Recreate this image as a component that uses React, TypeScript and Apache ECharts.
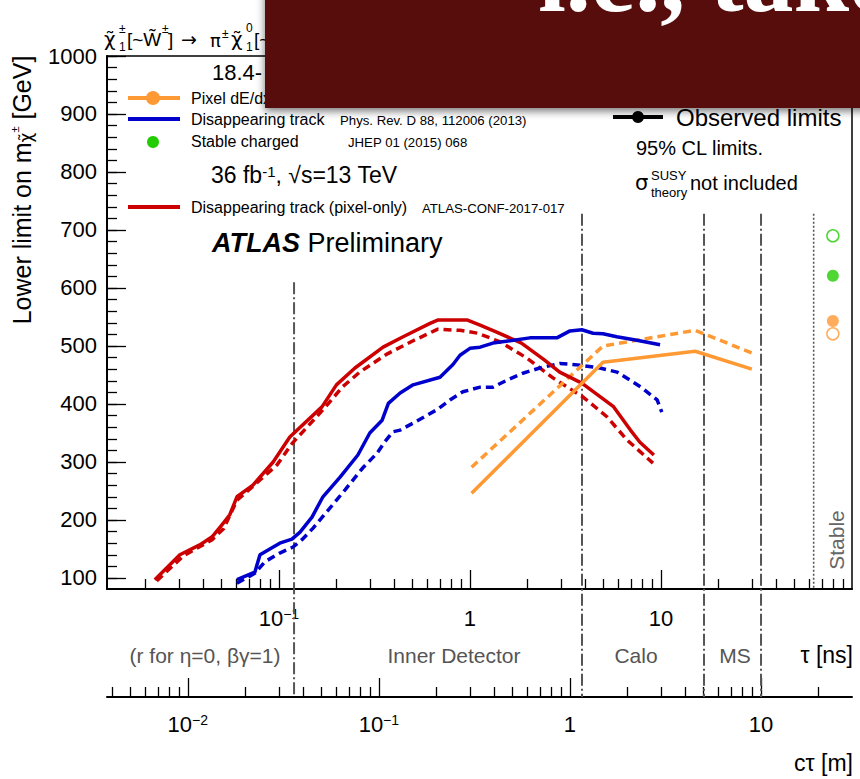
import React, { useEffect, useRef } from "react";
import * as echarts from "echarts";

// ---------- data (tau in ns, mass in GeV) ----------
const tauRedObs = [0.0224, 0.0303, 0.0385, 0.0447, 0.0513, 0.0553, 0.0603, 0.0731, 0.0933, 0.114, 0.168, 0.2, 0.25, 0.351, 0.447, 0.618, 0.682, 0.964, 1.13, 1.38, 1.86, 2.45, 2.95, 3.85, 5.62, 6.92, 7.76, 9.18];
const massRedObs = [97, 140, 157, 171, 195, 209, 240, 260, 300, 343, 395, 433, 462, 498, 516, 539, 545, 545, 536, 524, 505, 476, 455, 436, 396, 355, 334, 312];

const tauRedExp = [0.0229, 0.0316, 0.0447, 0.0513, 0.0603, 0.0708, 0.0977, 0.118, 0.17, 0.216, 0.265, 0.367, 0.504, 0.679, 0.887, 1.1, 1.44, 1.99, 2.72, 3.91, 5.21, 6.64, 9.08];
const massRedExp = [95, 138, 166, 185, 234, 254, 295, 333, 390, 430, 455, 486, 509, 529, 527, 522, 507, 479, 445, 412, 378, 338, 298];

const tauBlueObs = [0.0603, 0.0748, 0.0796, 0.101, 0.117, 0.129, 0.149, 0.17, 0.209, 0.259, 0.299, 0.347, 0.374, 0.431, 0.504, 0.697, 0.815, 0.887, 1.0, 1.13, 1.32, 1.62, 2.06, 2.85, 3.34, 3.85, 4.41, 4.97, 5.87, 7.48, 9.89];
const massBlueObs = [97, 110, 140, 160, 167, 179, 205, 240, 274, 312, 350, 372, 401, 419, 433, 446, 468, 484, 496, 498, 505, 509, 514, 514, 526, 528, 522, 521, 516, 510, 502];

const tauBlueExp = [0.0603, 0.0748, 0.0845, 0.101, 0.118, 0.132, 0.151, 0.178, 0.222, 0.275, 0.326, 0.359, 0.395, 0.431, 0.504, 0.671, 0.786, 0.918, 1.13, 1.32, 1.56, 1.89, 2.32, 2.96, 3.77, 4.79, 5.89, 6.89, 7.94, 9.55, 10.1];
const massBlueExp = [91, 108, 128, 143, 153, 166, 186, 214, 252, 290, 315, 335, 352, 355, 367, 390, 407, 421, 429, 429, 441, 453, 462, 470, 467, 462, 455, 441, 428, 407, 386];

const tauOrange = [1.02, 4.97, 15.1, 29.9];
const massOrangeObs = [246, 472, 491, 460];
const massOrangeExp = [291, 500, 527, 488];

const tauStable = 79.4;
const stableGreenObs = 621;
const stableGreenExp = 690;
const stableOrangeObs = 543;
const stableOrangeExp = 521;

// detector boundaries (tau in ns), top of line (GeV), 1 = dash-dot down to c*tau axis
const refTau = [0.12, 3.86, 16.8, 33.4, 63];
const refTop = [610, 728, 728, 728, 728];
const refKind = [1, 1, 1, 1, 0];

// axes
const tauLogMin = -1.9;
const tauLogMax = 2;
const lightSpeed = 0.299792458; // m per ns
const tauMajor = [0.1, 1, 10];
const ctauMajor = [0.01, 0.1, 1, 10];
const decades = [0.001, 0.01, 0.1, 1, 10];
const multipliers = [2, 3, 4, 5, 6, 7, 8, 9];
const yMajor = [100, 200, 300, 400, 500, 600, 700, 800, 900, 1000];
const yMinMass = 81;
const yMaxMass = 1000;
const yMinorStep = 20;

const FONT = "Liberation Sans, Arial, Helvetica, sans-serif";
const GREEKFONT = "DejaVu Sans, Liberation Sans, sans-serif";
const RED = "#cc0000";
const BLUE = "#0000cc";
const ORANGE = "#ff9933";
const GREEN = "#22cc00";

const lg = (v: number) => Math.log10(v);
const pairs = (t: number[], m: number[]) => t.map((v, i) => [lg(v), m[i]]);

const minorLogs = (lo: number, hi: number) => {
  const out: number[] = [];
  decades.forEach((d) =>
    multipliers.forEach((k) => {
      const v = lg(d * k);
      if (v >= lo - 1e-9 && v <= hi + 1e-9) out.push(v);
    })
  );
  return out;
};

const yMinor: number[] = [];
for (let v = 100; v <= 1000; v += yMinorStep) yMinor.push(v);

const powFmt = (lv: number) => {
  const r = Math.round(lv);
  if (r === 0) return "{b|1}";
  if (r === 1) return "{b|10}";
  return "{b|10}{s|\u2212" + -r + "}";
};

const tickRich = {
  b: { fontSize: 22, fontFamily: FONT, color: "#000" },
  s: { fontSize: 14, fontFamily: FONT, color: "#000", verticalAlign: "top" as const },
};

function txt(x: number, y: number, text: string, size: number, extra: any = {}) {
  return {
    type: "text",
    x,
    y,
    z: 10,
    style: {
      text,
      fontSize: size,
      fontFamily: FONT,
      fill: "#000",
      align: "left",
      verticalAlign: "middle",
      ...extra,
    },
  };
}

export default function App() {
  const ref = useRef<HTMLDivElement>(null);
  useEffect(() => {
    if (!ref.current) return;
    const chart = echarts.init(ref.current, undefined, { renderer: "svg" });
    const ctMin = tauLogMin + lg(lightSpeed);
    const ctMax = tauLogMax + lg(lightSpeed);
    const baseX = {
      type: "value",
      position: "bottom",
      splitLine: { show: false },
    };
    const option: any = {
      animation: false,
      grid: {
        left: 107,
        top: 56,
        width: 745,
        height: 533,
        show: true,
        borderColor: "#000",
        borderWidth: 1.5,
        backgroundColor: "transparent",
      },
      xAxis: [
        {
          ...baseX,
          min: tauLogMin,
          max: tauLogMax,
          axisLine: { show: true, onZero: false, lineStyle: { color: "#000", width: 2 } },
          axisTick: { show: true, inside: true, length: 19, customValues: tauMajor.map(lg), lineStyle: { color: "#000", width: 1.3 } },
          axisLabel: { show: true, customValues: tauMajor.map(lg), formatter: powFmt, rich: tickRich, margin: 18 },
        },
        {
          ...baseX,
          min: tauLogMin,
          max: tauLogMax,
          axisLine: { show: false, onZero: false },
          axisTick: { show: true, inside: true, length: 10, customValues: minorLogs(tauLogMin, tauLogMax), lineStyle: { color: "#000", width: 1.3 } },
          axisLabel: { show: false },
        },
        {
          ...baseX,
          min: ctMin,
          max: ctMax,
          offset: 108,
          axisLine: { show: true, onZero: false, lineStyle: { color: "#000", width: 2 } },
          axisTick: { show: true, inside: true, length: 19, customValues: ctauMajor.map(lg), lineStyle: { color: "#000", width: 1.3 } },
          axisLabel: { show: true, customValues: ctauMajor.map(lg), formatter: powFmt, rich: tickRich, margin: 16 },
        },
        {
          ...baseX,
          min: ctMin,
          max: ctMax,
          offset: 108,
          axisLine: { show: false, onZero: false },
          axisTick: { show: true, inside: true, length: 10, customValues: minorLogs(ctMin, ctMax), lineStyle: { color: "#000", width: 1.3 } },
          axisLabel: { show: false },
        },
      ],
      yAxis: [
        {
          type: "value",
          position: "left",
          min: yMinMass,
          max: yMaxMass,
          splitLine: { show: false },
          axisLine: { show: true, onZero: false, lineStyle: { color: "#000", width: 2 } },
          axisTick: { show: true, inside: true, length: 19, customValues: yMajor, lineStyle: { color: "#000", width: 1.3 } },
          axisLabel: { show: true, customValues: yMajor, formatter: (v: number) => String(v), fontSize: 22, fontFamily: FONT, color: "#000", margin: 10 },
        },
        {
          type: "value",
          position: "left",
          min: yMinMass,
          max: yMaxMass,
          splitLine: { show: false },
          axisLine: { show: false, onZero: false },
          axisTick: { show: true, inside: true, length: 10, customValues: yMinor, lineStyle: { color: "#000", width: 1.3 } },
          axisLabel: { show: false },
        },
      ],
      series: [
        {
          type: "custom",
          name: "boundaries",
          clip: false,
          z: 1,
          encode: { x: 0, y: 1 },
          data: refTau.map((t, i) => [lg(t), refTop[i], refKind[i]]),
          renderItem: (params: any, api: any) => {
            const p = api.coord([api.value(0), api.value(1)]);
            const cs = params.coordSys;
            const full = api.value(2) === 1;
            const bottom = cs.y + cs.height + (full ? 108 : 0);
            return {
              type: "line",
              shape: { x1: p[0], y1: p[1], x2: p[0], y2: bottom },
              style: full
                ? { stroke: "#555", lineWidth: 2, lineDash: [12, 3, 2, 3] }
                : { stroke: "#555", lineWidth: 1.6, lineDash: [2, 2] },
            };
          },
        },
        { type: "line", name: "Pixel-only exp", data: pairs(tauRedExp, massRedExp), symbol: "none", lineStyle: { color: RED, width: 3.5, type: [8, 5] }, z: 3 },
        { type: "line", name: "Pixel-only obs", data: pairs(tauRedObs, massRedObs), symbol: "none", lineStyle: { color: RED, width: 3.5 }, z: 4 },
        { type: "line", name: "Disappearing exp", data: pairs(tauBlueExp, massBlueExp), symbol: "none", lineStyle: { color: BLUE, width: 3.5, type: [8, 5] }, z: 3 },
        { type: "line", name: "Disappearing obs", data: pairs(tauBlueObs, massBlueObs), symbol: "none", lineStyle: { color: BLUE, width: 3.5 }, z: 4 },
        { type: "line", name: "dEdx exp", data: pairs(tauOrange, massOrangeExp), symbol: "none", lineStyle: { color: ORANGE, width: 3.5, type: [8, 5] }, z: 3 },
        { type: "line", name: "dEdx obs", data: pairs(tauOrange, massOrangeObs), symbol: "none", lineStyle: { color: ORANGE, width: 3.5 }, z: 4 },
        { type: "scatter", data: [[lg(tauStable), stableGreenObs]], symbol: "circle", symbolSize: 12, itemStyle: { color: GREEN } },
        { type: "scatter", data: [[lg(tauStable), stableGreenExp]], symbol: "circle", symbolSize: 12, itemStyle: { color: "#fff", borderColor: GREEN, borderWidth: 1.5 } },
        { type: "scatter", data: [[lg(tauStable), stableOrangeObs]], symbol: "circle", symbolSize: 12, itemStyle: { color: ORANGE } },
        { type: "scatter", data: [[lg(tauStable), stableOrangeExp]], symbol: "circle", symbolSize: 12, itemStyle: { color: "#fff", borderColor: ORANGE, borderWidth: 1.5 } },
      ],
      graphic: [
        // title (partly under the banner)
        txt(104, 39, "\u03c7\u0303", 20, { fontFamily: GREEKFONT }),
        txt(119, 29, "\u00b1", 12),
        txt(119, 47, "1", 12),
        txt(127, 39, "[~W\u0303", 19),
        txt(162, 29, "\u00b1", 12),
        txt(168, 39, "]", 19),
        txt(181, 39, "\u2192", 19, { fontFamily: GREEKFONT }),
        txt(210, 40, "\u03c0", 18, { fontFamily: GREEKFONT }),
        txt(222, 34, "\u00b1", 12),
        txt(231, 39, "\u03c7\u0303", 20, { fontFamily: GREEKFONT }),
        txt(246, 28, "0", 12),
        txt(246, 47, "1", 12),
        txt(254, 39, "[~", 19),
        // axis title
        {
          type: "text",
          x: 22,
          y: 190,
          rotation: Math.PI / 2,
          z: 10,
          style: {
            text: "{a|Lower limit on m}{b|\u03c7\u0303}{c|\u00b1}{a| [GeV]}",
            align: "center",
            verticalAlign: "middle",
            rich: {
              a: { fontSize: 25, fontFamily: FONT, fill: "#000" },
              b: { fontSize: 17, fontFamily: GREEKFONT, fill: "#000", verticalAlign: "bottom" },
              c: { fontSize: 11, fontFamily: FONT, fill: "#000", verticalAlign: "top" },
            },
          },
        },
        // left legend
        txt(212, 72, "18.4-", 22),
        { type: "line", z: 10, shape: { x1: 128, y1: 98, x2: 180, y2: 98 }, style: { stroke: ORANGE, lineWidth: 4 } },
        { type: "circle", z: 11, shape: { cx: 153, cy: 98, r: 7 }, style: { fill: ORANGE } },
        txt(191, 98, "Pixel dE/dx", 16),
        { type: "line", z: 10, shape: { x1: 128, y1: 119, x2: 180, y2: 119 }, style: { stroke: BLUE, lineWidth: 4 } },
        txt(191, 119, "Disappearing track", 16),
        txt(340, 120, "Phys. Rev. D 88, 112006 (2013)", 13.2),
        { type: "circle", z: 10, shape: { cx: 153, cy: 142, r: 6 }, style: { fill: GREEN } },
        txt(191, 141, "Stable charged", 16),
        txt(348, 142, "JHEP 01 (2015) 068", 13.2),
        {
          type: "text",
          x: 211,
          y: 175,
          z: 10,
          style: {
            text: "{a|36 fb}{s|-1}{a|, \u221As=13 TeV}",
            verticalAlign: "middle",
            rich: {
              a: { fontSize: 23, fontFamily: FONT, fill: "#000" },
              s: { fontSize: 15, fontFamily: FONT, fill: "#000", verticalAlign: "top" },
            },
          },
        },
        { type: "line", z: 10, shape: { x1: 128, y1: 207, x2: 180, y2: 207 }, style: { stroke: RED, lineWidth: 4 } },
        txt(191, 207, "Disappearing track (pixel-only)", 16),
        txt(422, 208, "ATLAS-CONF-2017-017", 13.2),
        {
          type: "text",
          x: 212,
          y: 243,
          z: 10,
          style: {
            text: "{a|ATLAS}{b| Preliminary}",
            verticalAlign: "middle",
            rich: {
              a: { fontSize: 27, fontFamily: FONT, fontWeight: "bold", fontStyle: "italic", fill: "#000" },
              b: { fontSize: 27, fontFamily: FONT, fill: "#000" },
            },
          },
        },
        // right legend
        { type: "line", z: 10, shape: { x1: 613, y1: 117, x2: 663, y2: 117 }, style: { stroke: "#000", lineWidth: 4 } },
        { type: "circle", z: 11, shape: { cx: 638, cy: 117, r: 6 }, style: { fill: "#000" } },
        txt(676, 117, "Observed limits", 24),
        txt(636, 148, "95% CL limits.", 20),
        txt(635, 183, "\u03c3", 21, { fontFamily: GREEKFONT }),
        txt(651, 175, "SUSY", 13),
        txt(651, 192, "theory", 13),
        txt(690, 183, "not included", 20),
        // Stable label
        {
          type: "text",
          x: 836,
          y: 540,
          rotation: Math.PI / 2,
          z: 10,
          style: { text: "Stable", fontSize: 21, fontFamily: FONT, fill: "#666", align: "center", verticalAlign: "middle" },
        },
        // regions
        txt(205, 655, "(r for \u03b7=0, \u03b2\u03b3=1)", 21, { fill: "#555", align: "center" }),
        txt(454, 655, "Inner Detector", 21, { fill: "#555", align: "center" }),
        txt(636, 655, "Calo", 21, { fill: "#555", align: "center" }),
        txt(735, 655, "MS", 21, { fill: "#555", align: "center" }),
        txt(853, 655, "\u03c4 [ns]", 23, { align: "right" }),
        txt(853, 763, "c\u03c4 [m]", 23, { align: "right" }),
        // banner
        {
          type: "rect",
          z: 100,
          shape: { x: 265, y: -20, width: 620, height: 128 },
          style: { fill: "#580808", shadowBlur: 8, shadowColor: "rgba(0,0,0,0.55)", shadowOffsetY: 3 },
        },
        {
          type: "text",
          x: 538,
          y: -23,
          z: 101,
          style: { text: "i.e., take", fill: "#fff", fontSize: 100, fontFamily: "Liberation Serif, serif", fontWeight: "bold", align: "left", verticalAlign: "middle" },
        },
      ],
    };
    chart.setOption(option);
    return () => chart.dispose();
  }, []);
  return (
    <div
      ref={ref}
      style={{ position: "fixed", left: 0, top: 0, width: 860, height: 779, background: "#fff" }}
    />
  );
}
